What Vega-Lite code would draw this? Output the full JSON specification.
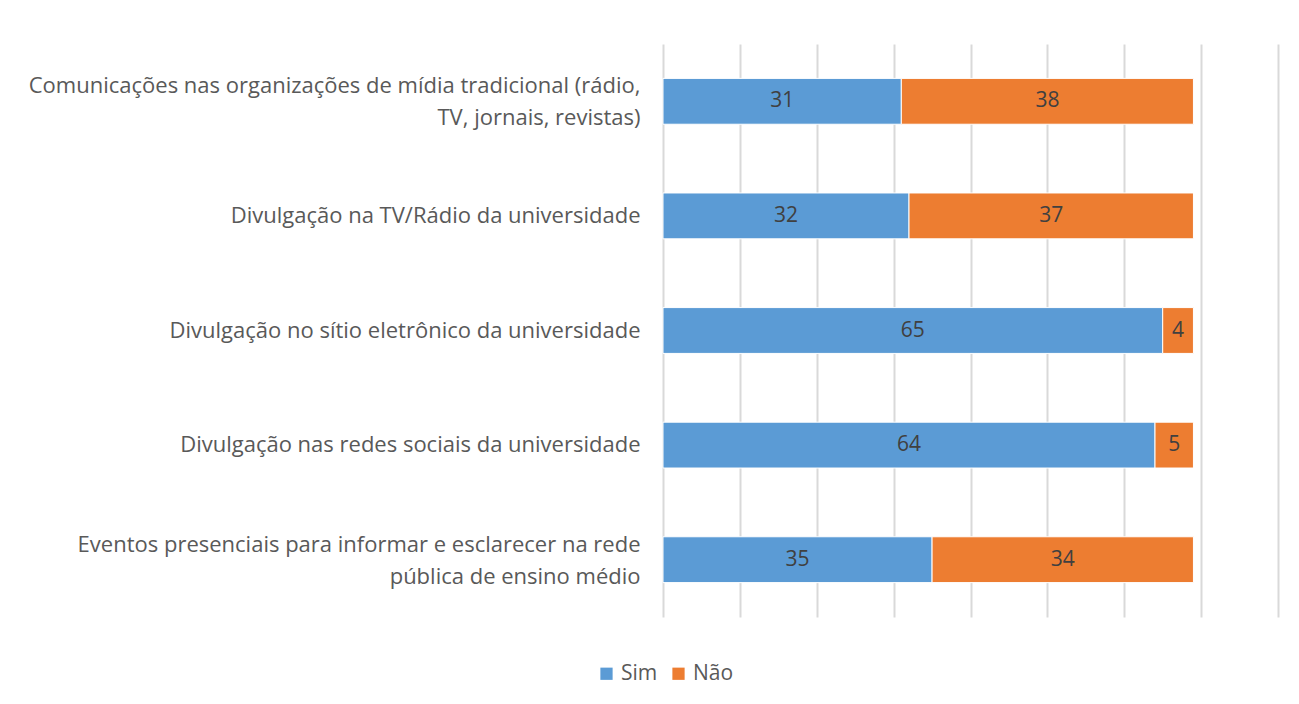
{
  "$schema": "https://vega.github.io/schema/vega-lite/v6.json",
  "autosize": "none",
  "width": 615,
  "height": 573,
  "padding": {"left": 663, "top": 44, "right": 21, "bottom": 87},
  "background": "white",
  "config": {"view": {"stroke": null}, "font": "Open Sans"},
  "data": {"values": [
    {"cat": "Comunicações nas organizações de mídia tradicional (rádio,\nTV, jornais, revistas)", "resp": "Sim", "ordem": 1, "v": 31},
    {"cat": "Comunicações nas organizações de mídia tradicional (rádio,\nTV, jornais, revistas)", "resp": "Não", "ordem": 2, "v": 38},
    {"cat": "Divulgação na TV/Rádio da universidade", "resp": "Sim", "ordem": 1, "v": 32},
    {"cat": "Divulgação na TV/Rádio da universidade", "resp": "Não", "ordem": 2, "v": 37},
    {"cat": "Divulgação no sítio eletrônico da universidade", "resp": "Sim", "ordem": 1, "v": 65},
    {"cat": "Divulgação no sítio eletrônico da universidade", "resp": "Não", "ordem": 2, "v": 4},
    {"cat": "Divulgação nas redes sociais da universidade", "resp": "Sim", "ordem": 1, "v": 64},
    {"cat": "Divulgação nas redes sociais da universidade", "resp": "Não", "ordem": 2, "v": 5},
    {"cat": "Eventos presenciais para informar e esclarecer na rede\npública de ensino médio", "resp": "Sim", "ordem": 1, "v": 35},
    {"cat": "Eventos presenciais para informar e esclarecer na rede\npública de ensino médio", "resp": "Não", "ordem": 2, "v": 34}
  ]},
  "encoding": {
    "y": {"field": "cat", "type": "nominal", "sort": null,
      "scale": {"paddingInner": 0.6, "paddingOuter": 0.3},
      "axis": {"title": null, "domain": false, "ticks": false, "labelPadding": 23,
        "labelFontSize": 22, "labelColor": "#595959", "labelLimit": 700,
        "labelExpr": "split(datum.value, '\\n')", "labelLineHeight": 32,
        "labelOffset": {"condition": {"test": "indexof(datum.value, '\\n') >= 0", "value": -15}, "value": 0}}},
    "x": {"field": "v", "type": "quantitative", "stack": "zero",
      "scale": {"domain": [0, 80], "nice": false},
      "axis": {"title": null, "labels": false, "ticks": false, "domain": false,
        "values": [0,10,20,30,40,50,60,70,80],
        "grid": true, "gridColor": "#D9D9D9", "gridWidth": 2}},
    "order": {"field": "ordem", "type": "quantitative"}
  },
  "layer": [
    {"mark": {"type": "bar", "stroke": "white", "strokeWidth": 1},
     "encoding": {
       "color": {"field": "resp", "type": "nominal", "sort": ["Sim", "Não"],
         "scale": {"domain": ["Sim", "Não"], "range": ["#5B9BD5", "#ED7D31"]},
         "legend": {"title": null, "orient": "none", "direction": "horizontal",
           "legendX": -67, "legendY": 619, "symbolType": "square", "symbolSize": 150,
           "labelFontSize": 21, "labelColor": "#595959", "columnPadding": 10, "symbolStrokeWidth": 0, "labelOffset": 4}}
     }},
    {"mark": {"type": "text", "fontSize": 21, "color": "#404040", "baseline": "middle", "align": "center"},
     "encoding": {
       "x": {"field": "v", "type": "quantitative", "stack": "zero", "bandPosition": 0.5,
         "axis": {"title": null, "labels": false, "ticks": false, "domain": false,
           "values": [0,10,20,30,40,50,60,70,80],
           "grid": true, "gridColor": "#D9D9D9", "gridWidth": 2}},
       "text": {"field": "v", "type": "quantitative"}
     }}
  ]
}
